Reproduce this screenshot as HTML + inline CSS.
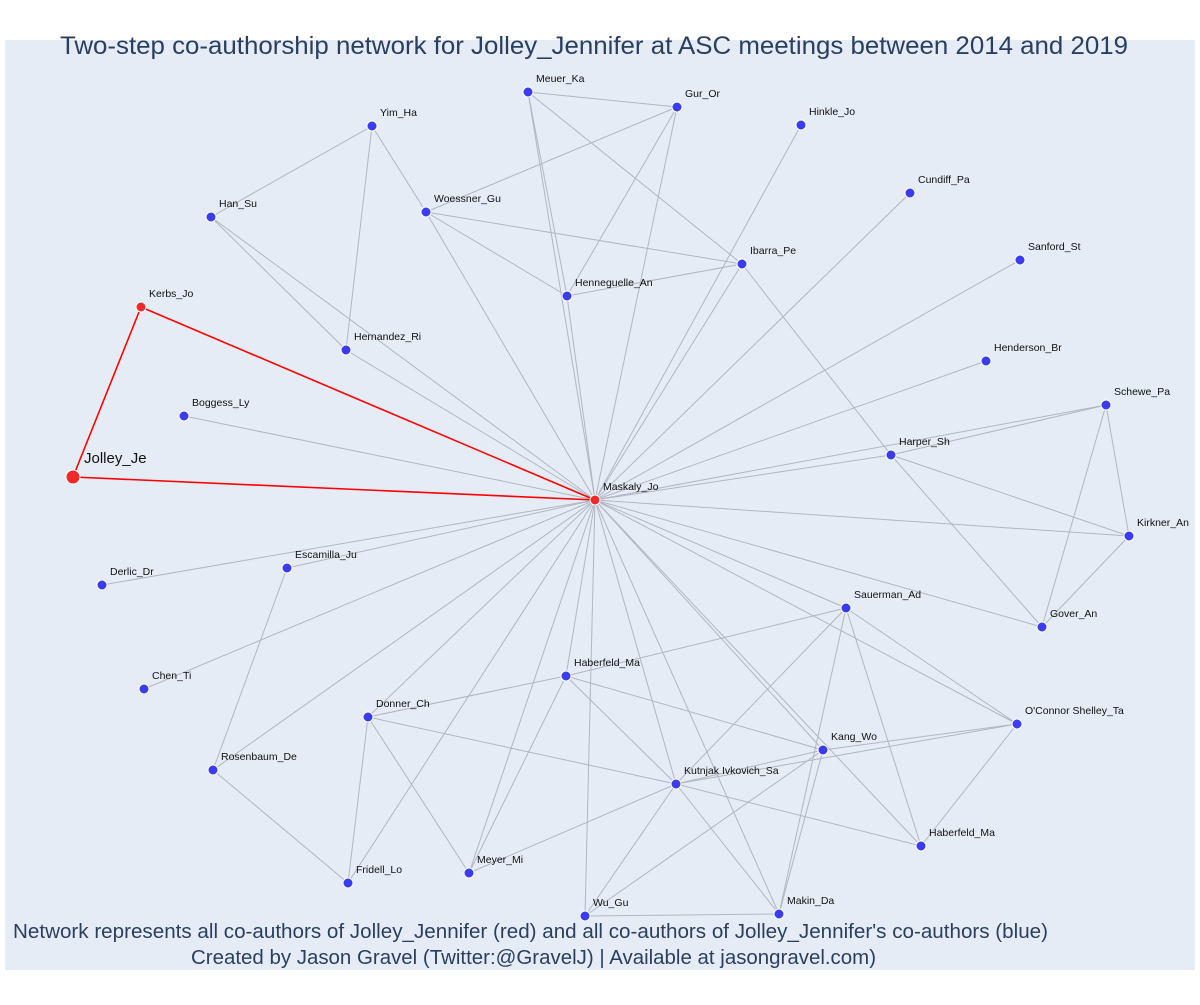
<!DOCTYPE html>
<html><head><meta charset="utf-8"><style>
html,body{margin:0;padding:0;background:#fff;}
svg text{font-family:"Liberation Sans","DejaVu Sans",sans-serif;}
</style></head><body>
<svg id="chart" width="1200" height="1000" xmlns="http://www.w3.org/2000/svg">
<rect x="5" y="40" width="1190" height="930" fill="#e5ecf6"/>
<text x="60" y="54" font-size="25" fill="#2a3f5f" textLength="1068" lengthAdjust="spacingAndGlyphs">Two-step co-authorship network for Jolley_Jennifer at ASC meetings between 2014 and 2019</text>
<g id="edges"></g>
<g id="nodes"></g>
<text x="13" y="938" font-size="20" fill="#2a3f5f" textLength="1035" lengthAdjust="spacingAndGlyphs">Network represents all co-authors of Jolley_Jennifer (red) and all co-authors of Jolley_Jennifer's co-authors (blue)</text>
<text x="191" y="964" font-size="20" fill="#2a3f5f" textLength="685" lengthAdjust="spacingAndGlyphs">Created by Jason Gravel (Twitter:@GravelJ) | Available at jasongravel.com)</text>
</svg>
<script>
const nodeNames = ["Jolley_Je","Kerbs_Jo","Maskaly_Jo","Meuer_Ka","Gur_Or","Hinkle_Jo","Yim_Ha","Woessner_Gu","Han_Su","Cundiff_Pa","Ibarra_Pe","Sanford_St","Henneguelle_An","Hernandez_Ri","Henderson_Br","Boggess_Ly","Schewe_Pa","Harper_Sh","Kirkner_An","Escamilla_Ju","Derlic_Dr","Sauerman_Ad","Gover_An","Haberfeld_Ma","Chen_Ti","Donner_Ch","O'Connor Shelley_Ta","Kang_Wo","Rosenbaum_De","Kutnjak Ivkovich_Sa","Haberfeld_Ma ","Meyer_Mi","Fridell_Lo","Wu_Gu","Makin_Da"];
const nodeX = [73,141,595,528,677,801,372,426,211,910,742,1020,567,346,986,184,1106,891,1129,287,102,846,1042,566,144,368,1017,823,213,676,921,469,348,585,779];
const nodeY = [477,307,500,92,107,125,126,212,217,193,264,260,296,350,361,416,405,455,536,568,585,608,627,676,689,717,724,750,770,784,846,873,883,916,914];
const nodeGroup = ["red","red","red"].concat(Array(32).fill("blue"));
const redEdges = [[0,1],[0,2],[1,2]];
const greyEdges = [
[6,8],[6,7],[6,13],[8,13],[8,2],[7,12],[7,10],[7,2],[7,4],[3,4],[3,10],[3,12],[3,2],[4,12],[4,2],[5,2],[12,10],[12,2],[10,2],[10,17],
[9,2],[11,2],[14,2],[16,17],[16,2],[16,18],[16,22],[17,2],[17,18],[17,22],[18,2],[18,22],[22,2],
[15,2],[13,2],[20,2],[19,2],[19,28],[24,2],[28,2],[28,32],
[25,23],[25,29],[25,31],[25,32],[25,2],[23,21],[23,27],[23,29],[23,31],[23,2],
[21,29],[21,26],[21,30],[21,34],[21,2],[27,26],[27,29],[27,33],[27,34],[27,2],[26,29],[26,30],[26,2],
[29,30],[29,34],[29,33],[29,31],[29,2],[30,2],[31,2],[32,2],[33,2],[33,34],[34,2]
];
const NS="http://www.w3.org/2000/svg";
const eg=document.getElementById('edges'), ng=document.getElementById('nodes');
function line(e,color,w){
  const l=document.createElementNS(NS,'line');
  l.setAttribute('x1',nodeX[e[0]]);l.setAttribute('y1',nodeY[e[0]]);
  l.setAttribute('x2',nodeX[e[1]]);l.setAttribute('y2',nodeY[e[1]]);
  l.setAttribute('stroke',color);l.setAttribute('stroke-width',w);
  
  
  eg.appendChild(l);
}
greyEdges.forEach(e=>line(e,'#b2b6c2',1));
redEdges.forEach(e=>line(e,'#ff0000',1.6));
nodeNames.forEach((n,i)=>{
  const c=document.createElementNS(NS,'circle');
  c.setAttribute('cx',nodeX[i]);c.setAttribute('cy',nodeY[i]);
  c.setAttribute('r',i===0?7:5);
  c.setAttribute('fill',nodeGroup[i]==='red'?'#ee2a2a':'#3b3bf2');
  c.setAttribute('stroke','#ffffff');c.setAttribute('stroke-width',1);
  
  
  ng.appendChild(c);
  const t=document.createElementNS(NS,'text');
  t.setAttribute('x',nodeX[i]+(i===0?11:8));
  t.setAttribute('y',nodeY[i]-(i===0?14:10));
  t.setAttribute('font-size',i===0?15:10.5);
  t.setAttribute('fill','#111');
  t.textContent=n.trim();
  
  
  ng.appendChild(t);
});
</script>
</body></html>
